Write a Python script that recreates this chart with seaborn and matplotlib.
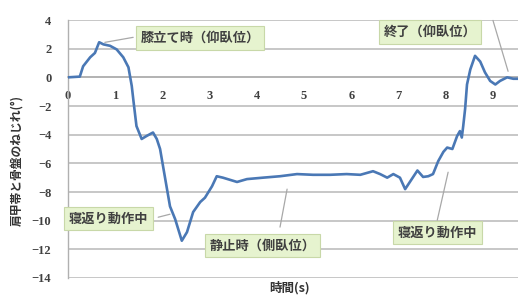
import matplotlib
matplotlib.use("Agg")
import matplotlib.pyplot as plt
import seaborn as sns
import pandas as pd

# data
time_s = [0, 0.25, 0.32, 0.47, 0.57, 0.66, 0.75, 0.89, 1.03, 1.17, 1.28, 1.35, 1.39, 1.45,
          1.56, 1.66, 1.8, 1.88, 1.95, 2.06, 2.16, 2.27, 2.41, 2.52, 2.65, 2.8, 2.9, 3.05,
          3.15, 3.28, 3.58, 3.79, 4.13, 4.49, 4.85, 5.19, 5.55, 5.9, 6.19, 6.46, 6.61, 6.76,
          6.89, 7.03, 7.14, 7.25, 7.4, 7.52, 7.63, 7.73, 7.84, 7.95, 8.03, 8.14, 8.24, 8.3,
          8.34, 8.37, 8.41, 8.45, 8.52, 8.62, 8.73, 8.83, 8.94, 9.05, 9.15, 9.3, 9.43, 9.53]
twist_deg = [0, 0.05, 0.77, 1.4, 1.7, 2.45, 2.3, 2.2, 1.95, 1.4, 0.7, -0.6, -1.75, -3.4,
             -4.3, -4.1, -3.85, -4.3, -5.0, -7.1, -9.0, -9.9, -11.4, -10.8, -9.4, -8.7, -8.4, -7.6,
             -6.9, -7.0, -7.3, -7.1, -7.0, -6.9, -6.75, -6.8, -6.8, -6.75, -6.8, -6.55, -6.75, -7.0,
             -6.75, -7.0, -7.8, -7.25, -6.5, -6.95, -6.9, -6.75, -5.85, -5.2, -4.9, -5.0, -4.1, -3.75,
             -4.2, -3.4, -2.2, -0.5, 0.55, 1.5, 1.1, 0.35, -0.25, -0.5, -0.25, 0.0, -0.1, -0.1]
x_ticks = [0, 1, 2, 3, 4, 5, 6, 7, 8, 9]
y_ticks = [-14, -12, -10, -8, -6, -4, -2, 0, 2, 4]
x_label = "時間(s)"
y_label = "肩甲帯と骨盤のねじれ(°)"
notes = ["膝立て時（仰臥位）", "終了（仰臥位）", "寝返り動作中", "静止時（側臥位）", "寝返り動作中"]

sns.set_theme(style="white")
plt.rcParams["font.family"] = ["Noto Sans CJK JP", "DejaVu Sans"]

df = pd.DataFrame({"t": time_s, "v": twist_deg})

fig = plt.figure(figsize=(5.18, 2.97), dpi=100)
ax = fig.add_axes([68 / 518, 1 - 278 / 297, 1 - 68 / 518, (278 - 20) / 297])

ax.set_ylim(-14, 4)
ax.set_xlim(0, 9.53)
ax.set_yticks(y_ticks)
ax.set_xticks(x_ticks)
for yv in y_ticks:
    ax.axhline(yv, color="#bdbdbd", lw=1.2, zorder=0)

sns.lineplot(data=df, x="t", y="v", ax=ax, color="#4a78b5", lw=1.9, zorder=3)

for s in ["top", "right"]:
    ax.spines[s].set_visible(False)
ax.spines["left"].set_color("#b0b0b0")
ax.spines["left"].set_linewidth(1.0)
ax.spines["bottom"].set_position(("data", 0))
ax.spines["bottom"].set_color("#b0b0b0")
ax.spines["bottom"].set_linewidth(1.2)

ax.tick_params(axis="both", length=0, colors="#404040")
ax.tick_params(axis="y", pad=12)
ax.tick_params(axis="x", pad=9)
for lab in ax.get_xticklabels() + ax.get_yticklabels():
    lab.set_fontfamily("Liberation Serif")
    lab.set_fontweight("bold")
    lab.set_fontsize(9)
ax.set_xlabel("")
ax.set_ylabel("")

fig.text(290 / 518, 1 - 288 / 297, x_label, ha="center", va="center", fontsize=9,
         fontweight="bold", color="#333333")
fig.text(17 / 518, 1 - 160 / 297, y_label, ha="center", va="center", rotation=90,
         fontsize=8.5, fontweight="bold", color="#333333")

box = dict(boxstyle="square,pad=0.35", fc="#e6f3cf", ec="#c8d8a8", lw=0.8)
positions = [(2.80, 2.75), (7.67, 3.17), (0.85, -9.86), (4.12, -11.74), (7.82, -10.84)]
for txt, (bx, by) in zip(notes, positions):
    ax.text(bx, by, txt, ha="center", va="center", fontsize=9.5, fontweight="bold",
            color="#404040", bbox=box, zorder=5, clip_on=False)

leaders = [((1.38, 2.79), (0.78, 2.44)),
           ((9.0, 3.97), (9.32, 0.42)),
           ((1.91, -9.76), (2.16, -9.55)),
           ((4.49, -10.45), (4.64, -7.8)),
           ((7.82, -9.97), (8.05, -6.62))]
for (x0, y0), (x1, y1) in leaders:
    ax.annotate("", xy=(x1, y1), xytext=(x0, y0),
                arrowprops=dict(arrowstyle="-", color="#a8a8a8", lw=0.9,
                                shrinkA=0, shrinkB=0),
                annotation_clip=False, zorder=4)

fig.savefig("out.png", dpi=100)
